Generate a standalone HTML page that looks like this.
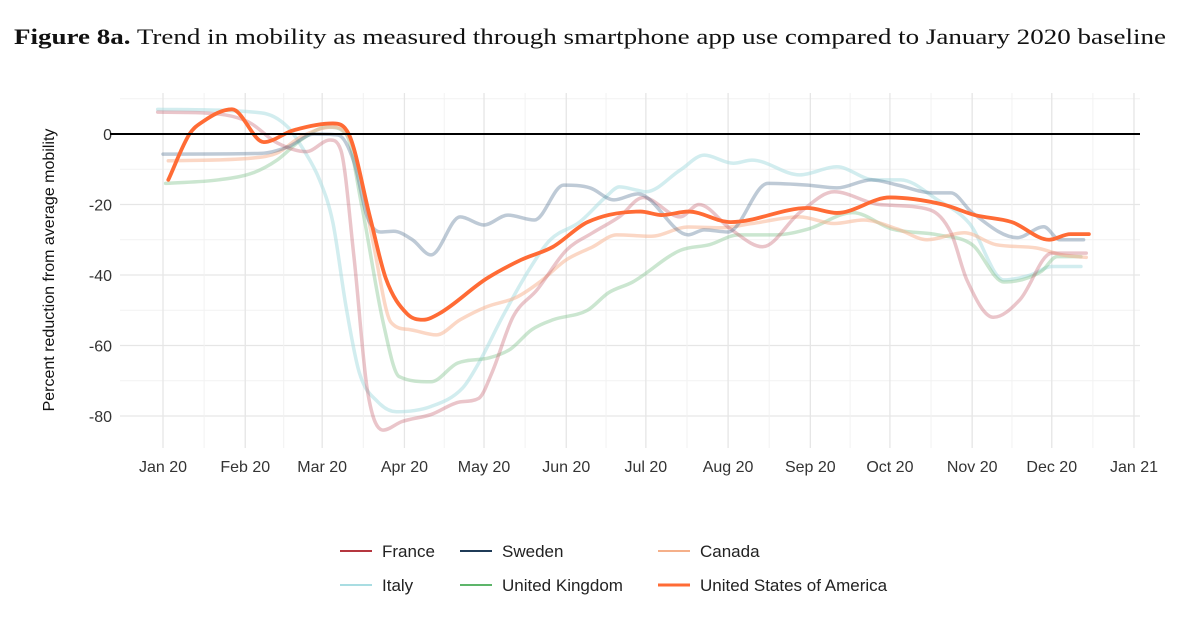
<!DOCTYPE html>
<html><head><meta charset="utf-8"><style>
body{margin:0;background:#fff;width:1200px;height:620px;overflow:hidden}
svg text{font-family:"Liberation Sans",sans-serif}
</style></head><body>
<svg width="1200" height="620" xmlns="http://www.w3.org/2000/svg">
<text x="14" y="44" textLength="1152" lengthAdjust="spacingAndGlyphs" style="font-family:'Liberation Serif',serif;font-size:22px;fill:#111"><tspan font-weight="bold">Figure 8a.</tspan> Trend in mobility as measured through smartphone app use compared to January 2020 baseline</text>
<g id="grid"></g>
<g id="series"></g>
<g id="axes"></g>
<text transform="translate(54,270) rotate(-90)" text-anchor="middle" font-size="16" fill="#111">Percent reduction from average mobility</text>
<g id="legend"></g>
</svg>
<script>
const monthLabels=["Jan 20","Feb 20","Mar 20","Apr 20","May 20","Jun 20","Jul 20","Aug 20","Sep 20","Oct 20","Nov 20","Dec 20","Jan 21"];
const monthStartDays=[0,31,60,91,121,152,182,213,244,274,305,335,366];
const yTicks=[0,-20,-40,-60,-80];
const seriesNames=["France","Sweden","Canada","Italy","United Kingdom","United States of America"];
const franceDays=[-2,15,32,43,54,63,67,72,77,83,90,101,112,119,124,132,141,152,162,172,181,195,202,214,226,240,253,270,289,297,303,313,323,335,348];
const franceVals=[6.2,6,3.5,-2.5,-5,-1.7,-4.5,-35,-72.5,-84,-81.6,-79.6,-76,-75,-67.7,-51.8,-44.2,-33,-28,-23.5,-18,-23.5,-20,-27,-32,-22.3,-16.4,-20,-21.5,-28,-41.4,-52,-47,-33.8,-33.8];
const swedenDays=[0,37,47,57,66,72,77,82,87,94,101,112,121,130,140,151,161,170,179,198,204,213,228,243,254,267,277,290,297,305,322,332,338,347];
const swedenVals=[-5.7,-5.5,-3.7,0,-0.3,-8,-23.5,-27.8,-27.6,-30,-34.3,-23.5,-25.8,-23,-24.4,-14.5,-15.3,-18.7,-17,-28.6,-27.2,-27.8,-14,-14.5,-15.3,-13,-14.5,-16.7,-16.7,-22.3,-29.4,-26.3,-30,-30];
const canadaDays=[2,34,43,52,64,72,79,86,93,103,112,122,133,142,152,162,171,184,198,210,222,240,253,264,277,288,302,314,329,339,348];
const canadaVals=[-7.6,-6.8,-5.4,-0.8,2,-4.5,-30,-53.5,-55.5,-57,-52.7,-49,-46.4,-42,-35.7,-32,-28.6,-29,-26.4,-26.6,-25.4,-23.5,-25.4,-24.4,-27,-30,-28,-31.4,-32.3,-34.3,-35];
const italyDays=[-2,37,47,53,59,64,69,74,81,88,101,113,119,128,138,146,157,167,172,179,182,195,204,215,222,240,254,268,278,292,304,317,327,335,346];
const italyVals=[7,6,2,-4.5,-13,-25,-49,-67.7,-76,-78.8,-77.3,-72,-65,-51.8,-38.5,-30,-25,-17.8,-15,-16,-16.4,-10.2,-6,-8.3,-7.4,-11.6,-9.3,-13,-13,-18.7,-25.4,-41.4,-40,-37.6,-37.6];
const ukDays=[1,21,34,43,52,62,69,75,83,89,101,111,123,131,139,147,160,168,177,195,206,217,231,243,260,275,292,305,317,331,337,346];
const ukVals=[-14,-13,-11,-7.4,-1.7,2,0,-20.7,-53.5,-68.8,-70.3,-65,-63.5,-61,-55.5,-52.7,-50,-45,-42,-33,-31.4,-28.6,-28.6,-27,-22.3,-27,-28.6,-31.4,-42,-39,-34.8,-34.8];
const usaDays=[2,10,15,26,38,49,64,70,78,84,92,98,104,122,135,147,160,180,188,198,214,243,254,274,294,306,320,334,342,349];
const usaVals=[-13,0,3.5,7,-2.3,1,3,0,-23.5,-41,-51,-52.7,-51,-41,-35.7,-32,-25,-22,-23,-22,-25,-21,-22.4,-18,-20,-23,-25,-30,-28.4,-28.4];

const NS="http://www.w3.org/2000/svg";
const X0=163,PXD=2.653,Y0=134,PXV=3.525;
const xs=d=>X0+d*PXD, ys=v=>Y0-v*PXV;
function mk(tag,attrs,parent){const e=document.createElementNS(NS,tag);for(const k in attrs)e.setAttribute(k,attrs[k]);parent.appendChild(e);return e;}
const grid=document.getElementById('grid'),axes=document.getElementById('axes'),ser=document.getElementById('series'),leg=document.getElementById('legend');
for(let v=10;v>=-80;v-=10){
  const major=v%20===0;
  const l=mk('line',{x1:120,x2:1140,y1:ys(v),y2:ys(v),stroke:major?'#e6e6e6':'#f2f2f2','stroke-width':major?1.3:1},grid);
  
  
}
for(let i=0;i<monthStartDays.length;i++){
  const l=mk('line',{x1:xs(monthStartDays[i]),x2:xs(monthStartDays[i]),y1:93,y2:448,stroke:'#e6e6e6','stroke-width':1.3},grid);
  
  
  if(i<monthStartDays.length-1){
    const m=(monthStartDays[i]+monthStartDays[i+1])/2;
    const l2=mk('line',{x1:xs(m),x2:xs(m),y1:93,y2:448,stroke:'#f2f2f2','stroke-width':1},grid);
    
    
  }
  const t=mk('text',{x:xs(monthStartDays[i]),y:472,'text-anchor':'middle','font-size':16,fill:'#333'},axes);
  t.textContent=monthLabels[i];
  
  
}
yTicks.forEach(v=>{
  const t=mk('text',{x:112,y:ys(v)+6,'text-anchor':'end','font-size':16,fill:'#333'},axes);
  t.textContent=v;
  
  
});
const zl=mk('line',{x1:110,x2:1140,y1:ys(0),y2:ys(0),stroke:'#000','stroke-width':2},axes);


function pathFor(dx,dy){
  const X=dx.map(xs),Y=dy.map(ys),n=X.length;
  const s=[],m=[];
  for(let i=0;i<n-1;i++)s.push((Y[i+1]-Y[i])/(X[i+1]-X[i]));
  for(let i=0;i<n;i++){
    if(i===0)m.push(s[0]);else if(i===n-1)m.push(s[n-2]);
    else m.push(s[i-1]*s[i]<=0?0:(s[i-1]+s[i])/2);
  }
  for(let i=0;i<n-1;i++){
    if(s[i]===0){m[i]=0;m[i+1]=0;continue;}
    const a=m[i]/s[i],b=m[i+1]/s[i],h=a*a+b*b;
    if(h>9){const t=3/Math.sqrt(h);m[i]=t*a*s[i];m[i+1]=t*b*s[i];}
  }
  let d=`M${X[0]},${Y[0]}`;
  for(let i=0;i<n-1;i++){const h=(X[i+1]-X[i])/3;d+=`C${X[i]+h},${Y[i]+m[i]*h} ${X[i+1]-h},${Y[i+1]-m[i+1]*h} ${X[i+1]},${Y[i+1]}`;}
  return d;
}
const specs=[
 [italyDays,italyVals,'#a6dce0',0.5,3.5,'series-italy'],
 [ukDays,ukVals,'#7cc08a',0.4,3.5,'series-united-kingdom'],
 [canadaDays,canadaVals,'#f7b08c',0.5,3.5,'series-canada'],
 [franceDays,franceVals,'#c45a66',0.35,3.5,'series-france'],
 [swedenDays,swedenVals,'#46688a',0.35,3.5,'series-sweden'],
 [usaDays,usaVals,'#ff6b35',1,3.8,'series-usa']];
specs.forEach(s=>{
  const p=mk('path',{d:pathFor(s[0],s[1]),fill:'none',stroke:s[2],'stroke-opacity':s[3],'stroke-width':s[4],'stroke-linejoin':'round','stroke-linecap':'round'},ser);
  
  
});
const legColors=['#b5363f','#1f3b57','#f5b08a','#a9dde2','#5db56a','#ff6b35'];
const legPos=[[340,551],[460,551],[658,551],[340,585],[460,585],[658,585]];
seriesNames.forEach((nm,i)=>{
  const [x,y]=legPos[i];
  const l=mk('line',{x1:x,x2:x+32,y1:y,y2:y,stroke:legColors[i],'stroke-width':i===5?3:2},leg);
  
  
  const t=mk('text',{x:x+42,y:y+6,'font-size':17,fill:'#222'},leg);
  t.textContent=nm;
  
  
});
</script>
</body></html>
